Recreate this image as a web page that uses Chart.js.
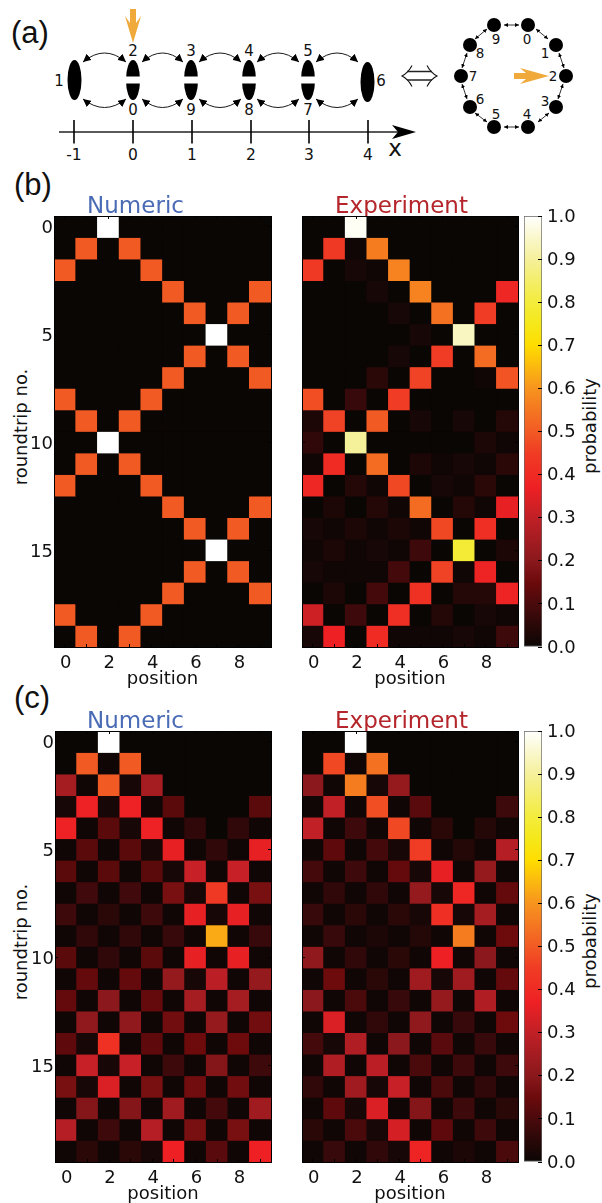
<!DOCTYPE html>
<html><head><meta charset="utf-8">
<script src="https://cdn.jsdelivr.net/npm/chart.js@4"></script>
<style>
html,body{margin:0;padding:0;background:#fff;width:602px;height:1203px;overflow:hidden}
canvas{position:absolute}
svg{position:absolute;left:0;top:0}
.t{position:absolute;font-family:"DejaVu Sans";white-space:nowrap;color:#111}
.panel{font-family:"Liberation Sans";font-size:31px;line-height:36px;color:#111}
.rot{font-size:18px;line-height:22px;transform:translate(-50%,-50%) rotate(-90deg)}
</style></head><body>
<svg id="sch" width="602" height="170" xmlns="http://www.w3.org/2000/svg"></svg>
<div class="t panel" style="left:11px;top:15px">(a)</div>
<div class="t panel" style="left:14px;top:167px">(b)</div>
<div class="t panel" style="left:14px;top:680px">(c)</div>
<div class="t rot" style="left:21px;top:427px">roundtrip no.</div>
<div class="t rot" style="left:21px;top:942px">roundtrip no.</div>
<div class="t rot" style="left:590px;top:426px">probability</div>
<div class="t rot" style="left:590px;top:941px">probability</div>
<canvas id="bn"></canvas><canvas id="be"></canvas><canvas id="bc"></canvas>
<canvas id="cn"></canvas><canvas id="ce"></canvas><canvas id="cc"></canvas>
<script>
const positions = ['0','1','2','3','4','5','6','7','8','9'];
const xTickLabels = ['0','2','4','6','8'];
const yTickValues = [0,5,10,15];
const colorbarTicks = [0,0.1,0.2,0.3,0.4,0.5,0.6,0.7,0.8,0.9,1.0];

const numericB = [
[0,0,1,0,0,0,0,0,0,0],
[0,.5,0,.5,0,0,0,0,0,0],
[.5,0,0,0,.5,0,0,0,0,0],
[0,0,0,0,0,.5,0,0,0,.5],
[0,0,0,0,0,0,.5,0,.5,0],
[0,0,0,0,0,0,0,1,0,0],
[0,0,0,0,0,0,.5,0,.5,0],
[0,0,0,0,0,.5,0,0,0,.5],
[.5,0,0,0,.5,0,0,0,0,0],
[0,.5,0,.5,0,0,0,0,0,0],
[0,0,1,0,0,0,0,0,0,0],
[0,.5,0,.5,0,0,0,0,0,0],
[.5,0,0,0,.5,0,0,0,0,0],
[0,0,0,0,0,.5,0,0,0,.5],
[0,0,0,0,0,0,.5,0,.5,0],
[0,0,0,0,0,0,0,1,0,0],
[0,0,0,0,0,0,.5,0,.5,0],
[0,0,0,0,0,.5,0,0,0,.5],
[.5,0,0,0,.5,0,0,0,0,0],
[0,.5,0,.5,0,0,0,0,0,0]];

const experimentB = [
[0,0,.99,0,0,0,0,0,0,0],
[0,.44,.01,.56,0,0,0,0,0,0],
[.44,0,.02,.01,.57,0,0,0,0,0],
[0,0,0,.02,0,.57,0,0,0,.39],
[0,0,0,0,.02,0,.54,0,.45,0],
[0,0,0,0,0,.02,0,.94,0,0],
[0,0,0,0,.02,0,.45,0,.53,0],
[0,0,0,.05,0,.46,0,0,.01,.49],
[.48,0,.07,0,.45,0,0,0,0,0],
[.03,.46,0,.5,0,.02,0,.02,0,.04],
[.06,0,.9,0,0,0,0,0,.03,.01],
[.01,.4,0,.53,0,.03,.01,.02,.01,.05],
[.39,0,.04,.01,.47,0,.02,.01,.05,0],
[0,.03,0,.04,.01,.53,0,.04,.01,.36],
[.02,.01,.03,.01,.03,.01,.47,0,.41,0],
[.01,.03,.01,.02,.01,.08,0,.79,0,.03],
[.02,.01,.01,.01,.09,0,.46,.01,.38,0],
[0,.03,0,.09,0,.42,0,.04,.04,.38],
[.32,0,.08,0,.41,0,.04,0,.02,.01],
[.02,.37,0,.4,.01,.01,.01,.02,.01,.08]];

const numericC = [
[0,0,1,0,0,0,0,0,0,0],
[0,.5,.01,.5,0,0,0,0,0,0],
[.25,.01,.5,.02,.25,0,0,0,0,0],
[.02,.375,.02,.375,.01,.125,0,0,0,.125],
[.375,.01,.125,.02,.375,.01,.06,0,.06,.01],
[.01,.125,.01,.125,.02,.36,.01,.06,.01,.36],
[.125,.01,.125,.01,.125,.02,.31,.01,.31,.01],
[.01,.085,.01,.085,.01,.17,.02,.44,.01,.17],
[.08,.01,.05,.01,.08,.01,.36,.02,.36,.01],
[.01,.06,.01,.06,.01,.07,.01,.63,.01,.07],
[.125,.01,.06,.01,.125,.01,.36,.01,.36,.01],
[.01,.14,.01,.14,.01,.22,.02,.29,.01,.22],
[.14,.01,.2,.01,.14,.01,.25,.01,.25,.01],
[.01,.21,.01,.21,.01,.16,.01,.22,.01,.16],
[.13,.02,.42,.01,.13,.01,.15,.01,.15,.01],
[.01,.31,.02,.31,.01,.08,.01,.19,.01,.08],
[.17,.02,.34,.01,.17,.01,.16,.01,.16,.01],
[.01,.19,.01,.19,.01,.24,.01,.09,.01,.24],
[.28,.01,.08,.01,.28,.01,.17,.01,.17,.01],
[.01,.05,.01,.05,.02,.37,.01,.12,.01,.37]];

const experimentC = [
[0,0,1,0,0,0,0,0,0,0],
[0,.47,.01,.54,0,0,0,0,0,0],
[.2,.01,.56,.02,.22,0,0,0,0,0],
[.01,.3,.01,.48,.01,.12,0,0,0,.08],
[.3,.01,.08,.01,.47,.01,.05,0,.04,.01],
[.01,.13,.01,.09,.02,.45,.01,.04,.01,.28],
[.09,.01,.08,.01,.14,.02,.36,.01,.22,.01],
[.01,.06,.01,.06,.01,.22,.02,.39,.01,.14],
[.07,.01,.05,.01,.05,.02,.41,.02,.25,.01],
[.01,.07,.01,.03,.01,.04,.01,.56,.01,.15],
[.21,.01,.06,.01,.05,.01,.37,.01,.2,.01],
[.01,.15,.01,.05,.01,.24,.02,.24,.01,.14],
[.2,.01,.1,.01,.07,.01,.22,.01,.27,.01],
[.01,.34,.01,.06,.01,.21,.01,.07,.01,.15],
[.09,.02,.27,.01,.2,.01,.12,.01,.07,.01],
[.01,.27,.01,.29,.01,.1,.01,.08,.01,.08],
[.06,.01,.24,.02,.31,.01,.1,.01,.06,.01],
[.01,.13,.02,.34,.01,.19,.01,.08,.01,.05],
[.05,.01,.1,.02,.33,.01,.13,.01,.08,.01],
[.01,.07,.01,.06,.02,.38,.01,.03,.01,.1]];

// colormap
const cmapStops = [[0,'#0a0604'],[.1,'#4a0a0c'],[.15,'#6c0a0c'],[.2,'#8a181c'],[.3,'#c02026'],[.37,'#ee2024'],[.45,'#f03c24'],[.5,'#f25a24'],[.6,'#f7941e'],[.7,'#ffdd00'],[.75,'#f5e81a'],[.8,'#f3ec3c'],[.9,'#f5f09a'],[1,'#ffffff']];
const hex = c => [1,3,5].map(i=>parseInt(c.substr(i,2),16));
function cmap(v){
  for(let i=1;i<cmapStops.length;i++){
    if(v<=cmapStops[i][0]){
      const [a,ca]=cmapStops[i-1],[b,cb]=cmapStops[i],f=(v-a)/(b-a),A=hex(ca),B=hex(cb);
      return 'rgb('+A.map((x,k)=>Math.round(x+(B[k]-x)*f)).join(',')+')';
    }
  }
  return '#fff';
}

const FONT='"DejaVu Sans"';
const plotBg={id:'plotBg',beforeDatasetsDraw(c){const a=c.chartArea;c.ctx.save();c.ctx.fillStyle='#0a0604';c.ctx.fillRect(a.left,a.top,a.right-a.left,a.bottom-a.top);c.ctx.restore();}};
const TOPH=32, BOTH=45;

function place(id,l,t,w,h){const e=document.getElementById(id);e.width=w;e.height=h;e.style.left=l+'px';e.style.top=t+'px';e.style.width=w+'px';e.style.height=h+'px';return e;}

function heatmap(id,matrix,title,titleColor,plotL,plotR,plotT,plotB,canvasL,canvasR,showY){
  const w=canvasR-canvasL,h=TOPH+(plotB-plotT)+BOTH;
  const el=place(id,canvasL,plotT-TOPH,w,h);
  const datasets=matrix.map((row,r)=>({
    data:row.map(()=>[r-.5,r+.5]),
    backgroundColor:row.map(cmap),
    grouped:false,barPercentage:1,categoryPercentage:1,borderWidth:0
  }));
  const tick={color:'#000',tickLength:-3,drawOnChartArea:false,z:1,tickWidth:1,tickColor:'#000'};
  const border={display:true,color:'#000',width:1,z:1};
  new Chart(el,{type:'bar',data:{labels:positions,datasets},plugins:[plotBg],options:{
    responsive:false,animation:false,devicePixelRatio:1,
    layout:{padding:{left:0,right:canvasR-plotR,top:0,bottom:0}},
    plugins:{legend:{display:false},tooltip:{enabled:false},
      title:{display:true,text:title,color:titleColor,font:{family:FONT,size:23,weight:'normal',lineHeight:1},padding:{top:TOPH-20,bottom:-3}}},
    scales:{
      x:{type:'category',position:'bottom',offset:true,grid:{...tick,offset:false},border,
        ticks:{autoSkip:false,maxRotation:0,minRotation:0,padding:8.5,labelOffset:1,color:'#111',font:{family:FONT,size:18},
          callback(v,i){const s=positions[i];return xTickLabels.includes(s)?s:'';}},
        title:{display:true,text:'position',color:'#111',font:{family:FONT,size:18},padding:{top:0,bottom:2}},
        afterFit(s){s.height=BOTH;}},
      xTop:{type:'category',position:'top',labels:positions,offset:true,grid:{...tick,offset:false},border,
        ticks:{display:false,autoSkip:false,callback(v,i){const s=positions[i];return xTickLabels.includes(s)?s:'';}},
        afterFit(s){s.height=0;}},
      y:{type:'linear',position:'left',reverse:true,min:-.5,max:19.5,grid:tick,border,
        ticks:{display:showY,padding:4,labelOffset:2,color:'#111',font:{family:FONT,size:18}},
        afterBuildTicks(s){s.ticks=yTickValues.map(value=>({value}));},
        afterFit(s){s.width=plotL-canvasL;}},
      yRight:{type:'linear',position:'right',reverse:true,min:-.5,max:19.5,grid:tick,border,
        ticks:{display:false},
        afterBuildTicks(s){s.ticks=yTickValues.map(value=>({value}));},
        afterFit(s){s.width=0;}}
    }
  }});
}

function colorbar(id,plotT,plotB){
  const L=524,R=542,CL=518,w=602-CL;
  const el=place(id,CL,plotT-12,w,(plotB-plotT)+24);
  new Chart(el,{type:'bar',data:{labels:['p'],datasets:[{data:[[0,1]],grouped:false,barPercentage:1,categoryPercentage:1,
    borderWidth:1,borderColor:'#666',borderSkipped:false,
    backgroundColor(ctx){const c=ctx.chart,a=c.chartArea;if(!a)return '#000';
      const g=c.ctx.createLinearGradient(0,a.bottom,0,a.top);cmapStops.forEach(([v,col])=>g.addColorStop(v,col));return g;}}]},
    options:{responsive:false,animation:false,devicePixelRatio:1,
      layout:{padding:{left:L-CL,right:0,top:12,bottom:12}},
      plugins:{legend:{display:false},tooltip:{enabled:false}},
      scales:{
        x:{display:false},
        y:{type:'linear',position:'right',min:0,max:1,
          grid:{drawOnChartArea:false,tickLength:-4,tickColor:'#000',z:1},border:{display:false},
          ticks:{padding:9,labelOffset:1,color:'#111',font:{family:FONT,size:18},callback:v=>Number(v).toFixed(1)},
          afterBuildTicks(s){s.ticks=colorbarTicks.map(value=>({value}));},
          afterFit(s){s.width=w-(L-CL)-(R-L);s.paddingTop=0;s.paddingBottom=0;}}
      }}});
}

const BLUE='#4a6bb5',RED='#b4262b';
heatmap('bn',numericB,'Numeric',BLUE,54,271,216,647,0,325,true);
heatmap('be',experimentB,'Experiment',RED,302,518,216,647,285,535,false);
colorbar('bc',216,647);
heatmap('cn',numericC,'Numeric',BLUE,55,271,731,1162,0,326,true);
heatmap('ce',experimentC,'Experiment',RED,302,518,731,1162,285,535,false);
colorbar('cc',731,1162);

// ---- schematic (a) ----
const cavitiesCut=[133,191,249,308];
const topLabels=['2','3','4','5'], botLabels=['0','9','8','7'];
const linkSpans=[[83,126],[142,183],[199,241],[257,299],[316,358]];
const axisTicks=[[74,'-1'],[133,'0'],[192,'1'],[251,'2'],[309,'3'],[368,'4']];
const ringNodes=[[528,25],[556,45],[566,76],[556,107],[528,127],[494,127],[470,107],[461,76],[470,45],[494,25]];
const ringLabels=[[527,39,'0'],[545,53,'1'],[553,76,'2'],[545,101,'3'],[527,114,'4'],[496,114,'5'],[480,99,'6'],[473,76,'7'],[480,53,'8'],[496,39,'9']];
const ringLinks=[[519,25,504,25],[536,29,548,39],[559,53,564,68],[563,84,558,99],[549,113,538,122],[519,127,504,127],[487,122,475,113],[467,99,462,84],[462,68,467,53],[475,39,487,29]];
let s=`<defs><marker id="h" markerUnits="userSpaceOnUse" markerWidth="9" markerHeight="8" refX="8" refY="4" orient="auto-start-reverse"><path d="M0,0L8,4L0,8z" fill="#000"/></marker>
<marker id="m" markerUnits="userSpaceOnUse" markerWidth="5" markerHeight="4" refX="4" refY="2" orient="auto-start-reverse"><path d="M0,0L4,2L0,4z" fill="#000"/></marker></defs>`;
const txt=(x,y,t,sz,fam)=>`<text x="${x}" y="${y}" font-family="${fam||'DejaVu Sans'}" font-size="${sz}" fill="#111" text-anchor="middle" dominant-baseline="central">${t}</text>`;
// orange arrows
s+=`<path d="M130,9L136,9L136,23L141,16L133,43L125,16L130,23z" fill="#f0aa3c"/>`;
s+=`<path d="M514,73L526,73L520,68L549,76L520,84L526,79L514,79z" fill="#f0aa3c"/>`;
// cavities
s+=`<ellipse cx="74.5" cy="80" rx="7" ry="20" fill="#000"/><ellipse cx="367.5" cy="82" rx="7" ry="20" fill="#000"/>`;
cavitiesCut.forEach((x,i)=>{
  s+=`<ellipse cx="${x}" cy="80" rx="7" ry="20" fill="#000"/><rect x="${x-8}" y="76.5" width="16" height="7" fill="#fff"/>`;
  s+=txt(x,50.5,topLabels[i],15)+txt(x,110,botLabels[i],15);
});
s+=txt(59,81,'1',15)+txt(381,81,'6',15);
linkSpans.forEach(([a,b])=>{
  const m=(a+b)/2;
  s+=`<path d="M${a},62Q${m},44 ${b},62" fill="none" stroke="#000" stroke-width="0.9" marker-start="url(#h)" marker-end="url(#h)"/>`;
  s+=`<path d="M${a},99Q${m},116 ${b},99" fill="none" stroke="#000" stroke-width="0.9" marker-start="url(#h)" marker-end="url(#h)"/>`;
});
// number line
s+=`<line x1="59" y1="132" x2="400" y2="132" stroke="#222" stroke-width="1.5"/><path d="M392,125L416,132L392,139L398,132z" fill="#000"/>`;
axisTicks.forEach(([x,t])=>{s+=`<line x1="${x}" y1="120" x2="${x}" y2="143.5" stroke="#000" stroke-width="1.6"/>`+txt(x,155,t,15.5);});
s+=txt(395,148,'x',23);
// equivalence
s+=`<path d="M412,65.5Q408,73 402,76Q408,79 412,86.5M402,76M427,65.5Q431,73 437,76Q431,79 427,86.5" fill="none" stroke="#111" stroke-width="1.1"/><path d="M407,71.5L432,71.5M407,80L432,80" stroke="#222" stroke-width="1.4"/>`;
// ring
ringNodes.forEach(([x,y])=>{s+=`<circle cx="${x}" cy="${y}" r="7" fill="#000"/>`;});
ringLinks.forEach(([a,b,c,d])=>{s+=`<line x1="${a}" y1="${b}" x2="${c}" y2="${d}" stroke="#000" stroke-width="0.8" marker-start="url(#m)" marker-end="url(#m)"/>`;});
ringLabels.forEach(([x,y,t])=>{s+=txt(x,y,t,13.5);});
document.getElementById('sch').innerHTML=s;
</script>
</body></html>
